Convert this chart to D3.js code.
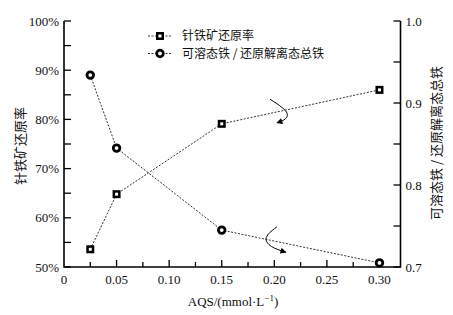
<!DOCTYPE html>
<html><head><meta charset="utf-8">
<script src="https://cdn.jsdelivr.net/npm/d3@7"></script>
<style>body{margin:0;background:#fff}</style>
</head><body><svg id="c" width="453" height="315"></svg>
<script>
const aqs = [0.025, 0.05, 0.15, 0.30];
const reductionRate = [53.6, 64.8, 79.1, 86.0];
const solubleRatio = [0.934, 0.845, 0.745, 0.705];
const xTicks = [0, 0.05, 0.10, 0.15, 0.20, 0.25, 0.30];
const yLeftTicks = [50, 60, 70, 80, 90, 100];
const yRightTicks = [0.7, 0.8, 0.9, 1.0];
const seriesNames = ["针铁矿还原率", "可溶态铁 / 还原解离态总铁"];
// annotation arrows in data units
const arrow1 = [[0.196, 84.1], [0.214, 81.6], [0.212, 80.0], [0.2025, 79.3]];
const arrow2 = [[0.2025, 0.749], [0.189, 0.736], [0.196, 0.724], [0.211, 0.718]];

const svg = d3.select("#c");
const L = 64, R = 400.5, T = 21, B = 267;
const serif = "'Liberation Serif','DejaVu Serif',serif";
const cjk = "'Noto Sans CJK SC',sans-serif";

const x = d3.scaleLinear().domain([0, 0.32]).range([L, R]);
const yl = d3.scaleLinear().domain([50, 100]).range([B, T]);
const yr = d3.scaleLinear().domain([0.7, 1.0]).range([B, T]);

// axes
const ax = svg.append("g").attr("stroke", "#000").attr("fill", "none");
ax.append("path").attr("d", `M${L},${T}V${B}H${R}V${T}`).attr("stroke-width", 1.6);

d3.range(50, 100.1, 5).forEach(v => {
  ax.append("line").attr("x1", L).attr("x2", L + 7).attr("y1", yl(v)).attr("y2", yl(v)).attr("stroke-width", 1.3);
});
d3.range(0.7, 1.001, 0.05).forEach(v => {
  ax.append("line").attr("x1", R).attr("x2", R - 7).attr("y1", yr(v)).attr("y2", yr(v)).attr("stroke-width", 1.3);
});
d3.range(0.025, 0.3001, 0.025).forEach((v, i) => {
  const major = i % 2 === 1;
  ax.append("line").attr("x1", x(v)).attr("x2", x(v)).attr("y1", B).attr("y2", B - (major ? 7 : 5)).attr("stroke-width", 1.3);
});

const txt = svg.append("g").attr("font-family", serif).attr("font-size", 13).attr("fill", "#111");
yLeftTicks.forEach(v => txt.append("text").attr("x", L - 5).attr("y", yl(v) + 4.5).attr("text-anchor", "end").text(v + "%"));
yRightTicks.forEach(v => txt.append("text").attr("x", R + 5).attr("y", yr(v) + 4.5).text(v.toFixed(1)));
xTicks.forEach(v => txt.append("text").attr("x", x(v)).attr("y", 284).attr("text-anchor", "middle").text(v === 0 ? "0" : v.toFixed(2)));

const xl = txt.append("text").attr("x", 233).attr("y", 306).attr("text-anchor", "middle");
xl.append("tspan").text("AQS/(mmol·L");
xl.append("tspan").attr("dy", -5).attr("font-size", 9).text("−1");
xl.append("tspan").attr("dy", 5).text(")");

svg.append("text").attr("transform", `translate(25,${146}) rotate(-90)`).attr("text-anchor", "middle")
  .attr("font-family", cjk).attr("font-size", 13).attr("fill", "#111").text(seriesNames[0]);
svg.append("text").attr("transform", `translate(441,${143}) rotate(-90)`).attr("text-anchor", "middle")
  .attr("font-family", cjk).attr("font-size", 13).attr("fill", "#111").text(seriesNames[1]);

// lines
const line1 = d3.line().x((d, i) => x(aqs[i])).y(d => yl(d));
const line2 = d3.line().x((d, i) => x(aqs[i])).y(d => yr(d));
const dash = "2,1.5";
svg.append("path").attr("d", line1(reductionRate)).attr("fill", "none").attr("stroke", "#333").attr("stroke-width", 1).attr("stroke-dasharray", dash);
svg.append("path").attr("d", line2(solubleRatio)).attr("fill", "none").attr("stroke", "#333").attr("stroke-width", 1).attr("stroke-dasharray", dash);

function square(g, cx, cy) {
  g.append("rect").attr("x", cx - 4).attr("y", cy - 4).attr("width", 8).attr("height", 8).attr("fill", "#000");
  g.append("rect").attr("x", cx - 1.5).attr("y", cy - 1.5).attr("width", 3).attr("height", 3).attr("fill", "#fff");
}
function circle(g, cx, cy) {
  g.append("circle").attr("cx", cx).attr("cy", cy).attr("r", 3.3).attr("fill", "#fff").attr("stroke", "#000").attr("stroke-width", 2.8);
}
const mk = svg.append("g");
reductionRate.forEach((v, i) => square(mk, x(aqs[i]), yl(v)));
solubleRatio.forEach((v, i) => circle(mk, x(aqs[i]), yr(v)));

// legend
const lg = svg.append("g");
[36, 53.5].forEach((ly, i) => {
  lg.append("line").attr("x1", 148).attr("x2", 172).attr("y1", ly).attr("y2", ly).attr("stroke", "#333").attr("stroke-dasharray", dash);
  if (i === 0) square(lg, 160, ly); else circle(lg, 160, ly);
  lg.append("text").attr("x", 182).attr("y", ly + 4.3).attr("font-family", cjk).attr("font-size", 12).attr("fill", "#111").text(seriesNames[i]);
});

// arrows
svg.append("defs").append("marker").attr("id", "ah").attr("viewBox", "0 0 10 10").attr("refX", 9).attr("refY", 5)
  .attr("markerWidth", 7).attr("markerHeight", 6).attr("markerUnits", "userSpaceOnUse").attr("orient", "auto")
  .append("path").attr("d", "M0,0L10,5L0,10Z").attr("fill", "#000");
const c1 = d3.line().x(d => x(d[0])).y(d => yl(d[1])).curve(d3.curveBasis);
const c2 = d3.line().x(d => x(d[0])).y(d => yr(d[1])).curve(d3.curveBasis);
svg.append("path").attr("d", c1(arrow1)).attr("fill", "none").attr("stroke", "#000").attr("stroke-width", 1).attr("marker-end", "url(#ah)");
svg.append("path").attr("d", c2(arrow2)).attr("fill", "none").attr("stroke", "#000").attr("stroke-width", 1).attr("marker-end", "url(#ah)");
</script></body></html>
